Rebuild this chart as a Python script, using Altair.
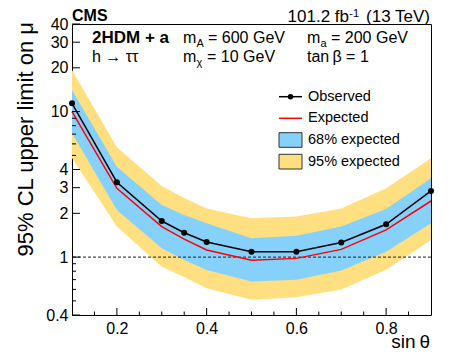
import altair as alt
import pandas as pd

# ---- data ----
sin_theta = [0.1, 0.2, 0.3, 0.35, 0.4, 0.5, 0.6, 0.7, 0.8, 0.9]
observed = [11.4, 3.27, 1.77, 1.47, 1.27, 1.09, 1.09, 1.26, 1.68, 2.85]
expected = [10.0, 2.97, 1.62, 1.33, 1.12, 0.95, 0.98, 1.13, 1.54, 2.43]
band68_lo = [7.13, 2.11, 1.15, 0.955, 0.815, 0.68, 0.70, 0.81, 1.09, 1.71]
band68_hi = [14.1, 4.18, 2.28, 1.95, 1.71, 1.35, 1.40, 1.62, 2.14, 3.48]
band95_lo = [4.80, 1.62, 0.86, 0.73, 0.61, 0.51, 0.53, 0.60, 0.82, 1.31]
band95_hi = [19.3, 5.68, 3.08, 2.55, 2.16, 1.85, 1.90, 2.16, 2.97, 4.78]

y_labels = [0.4, 1, 2, 3, 4, 10, 20, 30, 40]
y_minor = [0.5, 0.6, 0.7, 0.8, 0.9, 5, 6, 7, 8, 9]
x_labels = [0.2, 0.4, 0.6, 0.8]
x_minor = [0.15, 0.25, 0.3, 0.35, 0.45, 0.5, 0.55, 0.65, 0.7, 0.75, 0.85]

df = pd.DataFrame({
    "x": sin_theta, "obs": observed, "exp": expected,
    "lo68": band68_lo, "hi68": band68_hi, "lo95": band95_lo, "hi95": band95_hi,
})

W, H = 359, 291
FONT = "Liberation Sans"
YELLOW = "#FFDF7F"
BLUE = "#85D1FB"

xs = alt.Scale(domain=[0.1, 0.9], nice=False, zero=False)
ys = alt.Scale(type="log", domain=[0.4, 40], nice=False)
xax = alt.Axis(values=x_labels, format=".1f", title=None, ticks=False, domain=False, grid=False,
               labelFont=FONT, labelFontSize=16, labelColor="black", labelPadding=5)
yax = alt.Axis(values=y_labels, format="~g", title=None, ticks=False, domain=False, grid=False,
               labelFont=FONT, labelFontSize=16, labelColor="black", labelPadding=4)

def X(f):
    return alt.X(f, scale=xs, axis=xax)

def Y(f):
    return alt.Y(f, scale=ys, axis=yax)

base = alt.Chart(df)

band95 = base.mark_area(color=YELLOW, opacity=1).encode(x=X("x:Q"), y=Y("lo95:Q"), y2="hi95:Q")
band68 = base.mark_area(color=BLUE, opacity=1).encode(x=X("x:Q"), y=Y("lo68:Q"), y2="hi68:Q")

one = pd.DataFrame({"k": [0]})
unity = alt.Chart(one).transform_calculate(v="1").mark_rule(
    color="#222222", strokeWidth=1, strokeDash=[3, 2]).encode(y=Y("v:Q"))

exp_line = base.mark_line(color="#FF0000", strokeWidth=1.5).encode(x=X("x:Q"), y=Y("exp:Q"))
obs_line = base.mark_line(color="black", strokeWidth=1.5).encode(x=X("x:Q"), y=Y("obs:Q"))
obs_pts = base.mark_circle(color="black", size=36, opacity=1).encode(x=X("x:Q"), y=Y("obs:Q"))

# inward ticks
def yticks(vals, length):
    return alt.Chart(pd.DataFrame({"v": vals})).mark_rule(color="black", strokeWidth=1).encode(
        y=Y("v:Q"), x=alt.value(0), x2=alt.value(length))

def xticks(vals, length):
    return alt.Chart(pd.DataFrame({"v": vals})).mark_rule(color="black", strokeWidth=1).encode(
        x=X("v:Q"), y=alt.value(H), y2=alt.value(H - length))

ticks = [yticks(y_labels, 8), yticks(y_minor, 4), xticks(x_labels, 7), xticks(x_minor, 3.5)]

def txt(s, x, y, size=16, bold=False, align="left", baseline="alphabetic", angle=0):
    return alt.Chart(one).mark_text(text=s, font=FONT, fontSize=size,
                                    fontWeight="bold" if bold else "normal",
                                    align=align, baseline=baseline, angle=angle,
                                    color="black").encode(x=alt.value(x), y=alt.value(y))

def rect(x1, x2, y1, y2, fill):
    return alt.Chart(one).mark_rect(fill=fill, stroke="#333333", strokeWidth=1).encode(
        x=alt.value(x1), x2=alt.value(x2), y=alt.value(y1), y2=alt.value(y2))

def seg(x1, x2, y, color):
    return alt.Chart(one).mark_rule(color=color, strokeWidth=1.5).encode(
        x=alt.value(x1), x2=alt.value(x2), y=alt.value(y))

legend = [
    seg(207, 230, 72.7, "black"),
    alt.Chart(one).mark_circle(color="black", size=30, opacity=1).encode(
        x=alt.value(218.5), y=alt.value(72.7)),
    txt("Observed", 236, 72.7, 14.5, baseline="middle"),
    seg(207, 230, 94.3, "#FF0000"),
    txt("Expected", 236, 94.3, 14.5, baseline="middle"),
    rect(207, 230, 108.7, 123.3, BLUE),
    txt("68% expected", 236, 116, 14.5, baseline="middle"),
    rect(207, 230, 130.3, 145, YELLOW),
    txt("95% expected", 236, 137.7, 14.5, baseline="middle"),
]

texts = [
    txt("CMS", 0, -3, 16, bold=True),
    txt("(13 TeV)", 358, -2, 17, align="right"),
    txt("-1", 287, -7, 11, align="right"),
    txt("101.2 fb", 277, -2, 17, align="right"),
    txt("2HDM + a", 20, 19, 17, bold=True),
    txt("h \u2192 \u03c4\u03c4", 20, 38, 16),
    txt("m", 111, 19, 16), txt("A", 124.5, 23, 11), txt("= 600 GeV", 136, 19, 16),
    txt("m", 235, 19, 16), txt("a", 248.5, 23, 11), txt("= 200 GeV", 259, 19, 16),
    txt("m", 111, 38, 16), txt("\u03c7", 124.5, 42, 11), txt("= 10 GeV", 135, 38, 16),
    txt("tan\u2009\u03b2 = 1", 235, 38, 16),
    txt("sin\u2009\u03b8", 358, 324, 19, align="right"),
    txt("95% CL upper limit on \u03bc", -39, -2, 22, align="right", angle=270),
]

chart = alt.layer(band95, band68, unity, exp_line, obs_line, obs_pts, *ticks, *legend, *texts).properties(
    width=W, height=H,
    autosize=alt.AutoSizeParams(type="none"),
    padding={"left": 64, "top": 16, "right": 10, "bottom": 36},
).configure_view(stroke="black", strokeWidth=1)

chart.save("out.html", embed_options={"renderer": "svg", "actions": False})
